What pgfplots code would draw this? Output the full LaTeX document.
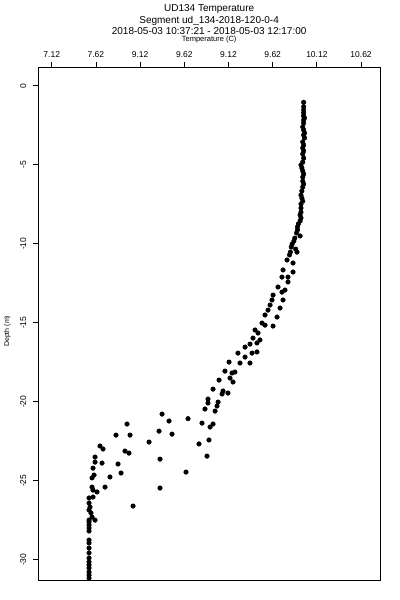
\documentclass[border=0pt]{standalone}
\usepackage{fontspec}
\setmainfont{Liberation Sans}
\usepackage{pgfplots}
\pgfplotsset{compat=1.18}
\begin{document}
\begin{tikzpicture}
\begin{axis}[
  scale only axis, width=341.7bp, height=512.7bp,
  xmin=6.968, xmax=10.834, ymin=-31.28, ymax=1.165,
  axis line style={line width=0.8bp},
  every tick/.style={line width=0.8bp, black},
  tick align=outside, major tick length=5.5bp,
  xtick pos=right, xticklabel pos=right, ytick pos=left,
  xtick={7.12,7.62,8.12,8.62,9.12,9.62,10.12,10.62},
  xticklabels={7.12,7.62,9.12,9.62,9.12,9.62,10.12,10.62},
  ytick={0,-5,-10,-15,-20,-25,-30},
  yticklabels={0,-5,-10,-15,-20,-25,-30},
  minor tick num=0,
  xticklabel style={font=\fontsize{8.5bp}{10bp}\selectfont, yshift=1bp},
  yticklabel style={font=\fontsize{8.5bp}{10bp}\selectfont, xshift=-3bp, rotate=90, anchor=south},
  xlabel={Temperature (C)},
  xlabel style={at={(axis description cs:0.5,1.0503)}, anchor=base, font=\fontsize{7.5bp}{9bp}\selectfont, inner sep=0pt},
  ylabel={Depth (m)},
  ylabel style={at={(axis description cs:-0.0906,0.485)}, anchor=center, font=\fontsize{7bp}{8bp}\selectfont, inner sep=0pt},
  title={UD134 Temperature\\Segment ud\_134-2018-120-0-4\\2018-05-03 10:37:21 - 2018-05-03 12:17:00},
  title style={at={(axis description cs:0.5,1.0512)}, anchor=south, align=center, inner sep=0pt, yshift=0pt, font=\fontsize{10bp}{11.5bp}\selectfont},
]
\addplot[only marks, mark=*, mark size=2.3bp, black] table {
x y
9.97 -1.05
9.97 -1.33
9.97 -1.54
9.97 -1.73
9.97 -1.92
9.98 -2.04
9.97 -2.17
9.97 -2.36
9.96 -2.61
9.97 -2.80
9.98 -2.99
9.97 -3.12
9.98 -3.31
9.96 -3.56
9.97 -3.75
9.96 -3.94
9.97 -4.13
9.96 -4.32
9.97 -4.58
9.96 -4.83
9.94 -5.02
9.95 -5.21
9.96 -5.40
9.97 -5.59
9.96 -5.78
9.96 -6.04
9.97 -6.22
9.96 -6.41
9.95 -6.66
9.94 -6.92
9.95 -7.11
9.96 -7.30
9.94 -7.49
9.94 -7.74
9.94 -8.00
9.93 -8.18
9.94 -8.37
9.93 -8.56
9.91 -8.75
9.90 -8.94
9.90 -9.13
9.89 -9.32
9.93 -9.51
9.87 -9.64
9.86 -9.83
9.84 -10.02
9.83 -10.21
9.88 -10.34
9.82 -10.53
9.81 -10.71
9.895 -10.53
9.782 -11.03
9.850 -11.22
9.737 -11.66
9.850 -11.79
9.725 -12.11
9.793 -12.11
9.793 -12.42
9.680 -12.74
9.759 -12.93
9.725 -13.06
9.624 -13.25
9.612 -13.56
9.737 -13.56
9.590 -13.88
9.703 -14.07
9.567 -14.20
9.533 -14.51
9.669 -14.64
9.499 -15.02
9.533 -15.15
9.624 -15.21
9.420 -15.46
9.454 -15.65
9.397 -15.97
9.476 -16.09
9.442 -16.28
9.363 -16.35
9.307 -16.54
9.442 -16.85
9.227 -16.92
9.386 -16.92
9.307 -17.17
9.363 -17.55
9.126 -17.49
9.250 -17.55
9.080 -18.06
9.193 -18.12
9.160 -18.18
9.137 -18.50
9.171 -18.75
9.013 -18.63
8.945 -19.20
9.058 -19.32
9.114 -19.45
9.047 -19.51
8.888 -19.83
9.002 -20.02
8.888 -20.08
8.990 -20.27
8.854 -20.46
8.968 -20.59
8.662 -21.07
8.368 -20.78
8.447 -21.22
7.972 -21.41
8.820 -21.35
8.945 -21.41
8.911 -21.60
8.334 -21.86
7.847 -22.11
8.006 -22.11
8.481 -22.05
8.221 -22.55
8.786 -22.67
8.899 -22.42
7.666 -22.80
7.700 -22.99
7.949 -23.12
7.994 -23.25
7.610 -23.50
8.345 -23.63
8.877 -23.44
7.610 -23.82
7.689 -23.88
7.870 -23.94
7.587 -24.20
7.904 -24.51
8.639 -24.45
7.599 -24.64
7.576 -24.82
7.779 -24.76
7.723 -25.40
8.345 -25.46
7.576 -25.40
7.587 -25.59
7.632 -25.71
7.542 -26.09
7.587 -26.03
8.040 -26.60
7.542 -26.41
7.553 -26.66
7.542 -26.85
7.564 -27.04
7.576 -27.30
7.610 -27.49
7.542 -27.49
7.542 -27.61
7.542 -27.80
7.542 -27.99
7.542 -28.18
7.542 -28.75
7.542 -28.94
7.542 -29.26
7.542 -29.57
7.542 -29.89
7.542 -30.14
7.542 -30.33
7.542 -30.52
7.542 -30.78
7.542 -30.97
7.542 -31.16
};
\end{axis}
\pgfresetboundingbox
\useasboundingbox ([xshift=-38.3bp,yshift=-20bp]current axis.south west) rectangle ([xshift=20bp,yshift=67.3bp]current axis.north east);
\end{tikzpicture}
\end{document}
